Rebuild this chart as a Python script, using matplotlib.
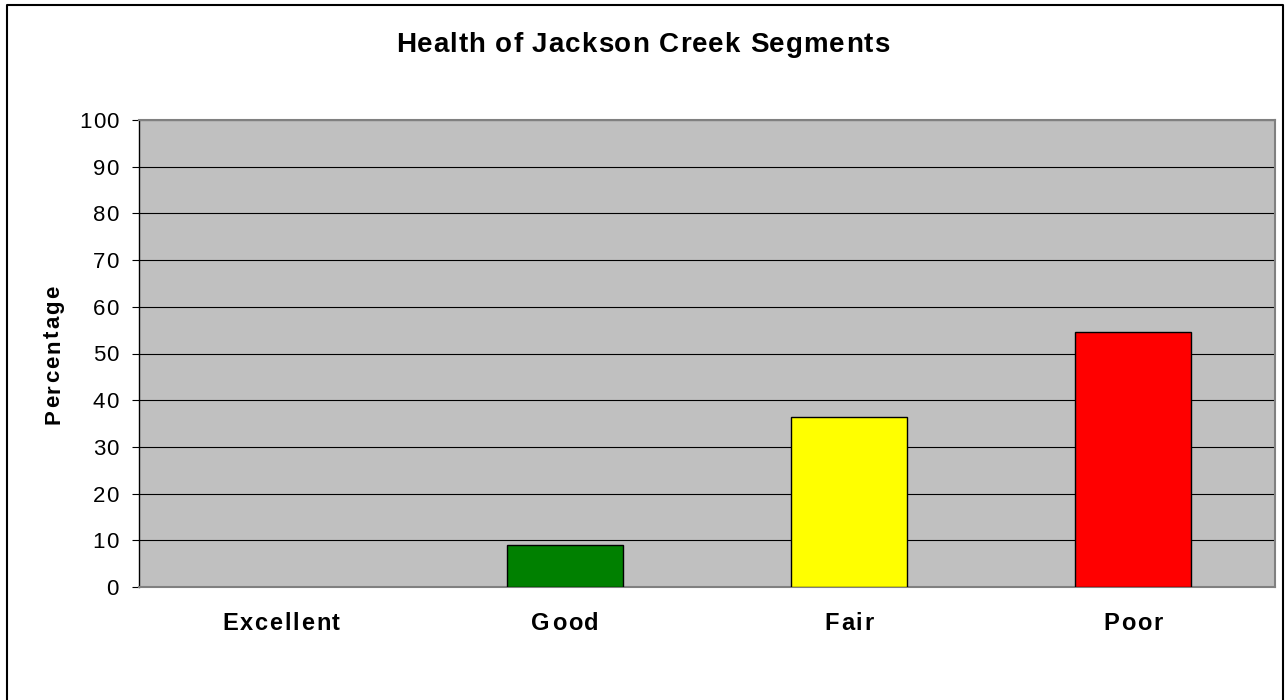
import matplotlib
matplotlib.use("Agg")
import matplotlib.pyplot as plt
from matplotlib.font_manager import FontProperties, findfont
from matplotlib.ft2font import FT2Font
from matplotlib.lines import Line2D

# segment health shares (%)
categories = ["Excellent", "Good", "Fair", "Poor"]
percentages = [0.0, 9.09, 36.36, 54.55]
bar_colors = ["#008000", "#008000", "#FFFF00", "#FF0000"]
y_ticks = list(range(0, 101, 10))
title = "Health of Jackson Creek Segments"
y_label = "Percentage"

W, H, DPI = 1285, 700, 100
fig = plt.figure(figsize=(W / DPI, H / DPI), dpi=DPI)
ax = fig.add_axes([139 / W, 113 / H, 1136 / W, 467 / H])
ax.set_facecolor("#C0C0C0")

x = list(range(len(categories)))
ax.bar(x, percentages, width=0.405, color=bar_colors, edgecolor="black",
       linewidth=[0 if v == 0 else 1.0 for v in percentages], zorder=3)

ax.set_xlim(-0.5, len(categories) - 0.5)
ax.set_ylim(0, 100)
ax.set_yticks(y_ticks)
ax.set_xticks(x)
ax.yaxis.grid(True, color="black", linewidth=0.8)
ax.set_axisbelow(True)
ax.tick_params(axis="y", direction="out", length=5, width=0.8, color="black",
               labelleft=False)
ax.tick_params(axis="x", length=0, labelbottom=False)

for side in ["top", "right", "bottom"]:
    ax.spines[side].set_color("#808080")
    ax.spines[side].set_linewidth(1.5)
ax.spines["left"].set_color("black")
ax.spines["left"].set_linewidth(1.0)


def advances(s, prop):
    font = FT2Font(findfont(prop))
    font.set_size(prop.get_size_in_points(), DPI)
    return [font.load_char(ord(c)).linearHoriAdvance / 65536 for c in s]


def tracked_text(px, py, s, size, track, bold=True, ha="center", rotation=0):
    # draw letter by letter with extra spacing; (px, py) is the baseline anchor in pixels
    prop = FontProperties(family="Liberation Sans",
                          weight="bold" if bold else "normal", size=size)
    adv = advances(s, prop)
    total = sum(adv) + track * (len(s) - 1)
    pos = {"left": 0, "center": -total / 2, "right": -total}[ha]
    for c, a in zip(s, adv):
        if rotation == 90:
            cx, cy = px, py + pos
        else:
            cx, cy = px + pos, py
        fig.text(cx / W, cy / H, c, fontproperties=prop, ha="left",
                 va="baseline", rotation=rotation, rotation_mode="anchor",
                 color="black")
        pos += a + track


# title
tracked_text(W / 2, H - 52, title, 20, 1.0)

# category labels under the bars
for xi, lab in zip(x, categories):
    cx = ax.transData.transform((xi, 0))[0]
    tracked_text(cx, H - 630, lab, 17, 1.8)

# value axis numbers
cap = 0.716 * 16 * DPI / 72
for t in y_ticks:
    ty = ax.transData.transform((0, t))[1]
    tracked_text(118, ty - cap / 2, str(t), 16, 0.6, bold=False, ha="right")

# rotated axis title
tracked_text(59, H - 355, y_label, 16, 2.0, rotation=90)

# outer chart frame
fig.add_artist(Line2D([7 / W, 7 / W, 1283 / W, 1283 / W],
                      [0, 695 / H, 695 / H, 0],
                      transform=fig.transFigure, color="black", linewidth=1.5))

fig.savefig("out.png", dpi=DPI)
